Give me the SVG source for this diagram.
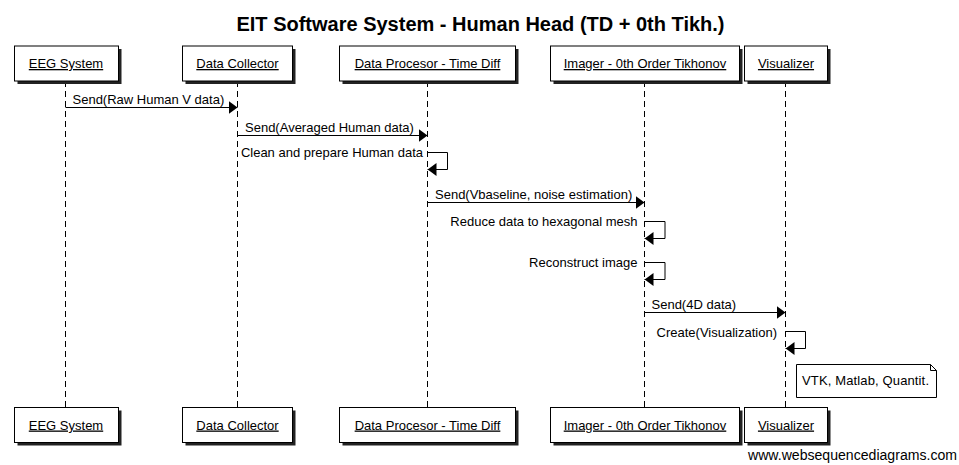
<svg xmlns="http://www.w3.org/2000/svg" width="959" height="465" viewBox="0 0 959 465">
<style>
text{font-family:"Liberation Sans",Arial,sans-serif;font-size:13px;fill:#000}
.title{font-size:20px;font-weight:bold}
.lbl{text-decoration:underline;text-anchor:middle}
.box{fill:#fff;stroke:#000;stroke-width:1}
.shadow{fill:#222}
.life{stroke:#000;stroke-width:1;stroke-dasharray:6,4;fill:none}
.msg{stroke:#000;stroke-width:1;fill:none;marker-end:url(#ah)}
.end{text-anchor:end}
.note{fill:#fff;stroke:#000;stroke-width:1}
.wm{font-size:14px;text-anchor:end}
</style>
<defs>
<marker id="ah" viewBox="0 0 9 13" refX="9" refY="6.5" markerWidth="9" markerHeight="13" markerUnits="userSpaceOnUse" orient="auto">
<path d="M0,0 L9,6.5 L0,13 z" fill="#000"/>
</marker>
</defs>
<rect width="959" height="465" fill="#fff"/>
<text class="title" x="480.5" y="31" text-anchor="middle">EIT Software System - Human Head (TD + 0th Tikh.)</text>

<g id="lifelines">
<line class="life" x1="65.5" y1="81" x2="65.5" y2="407"/>
<line class="life" x1="237.5" y1="81" x2="237.5" y2="407"/>
<line class="life" x1="427.5" y1="81" x2="427.5" y2="407"/>
<line class="life" x1="644.5" y1="81" x2="644.5" y2="407"/>
<line class="life" x1="785.5" y1="81" x2="785.5" y2="407"/>
</g>

<g id="eeg">
<rect class="shadow" x="17.5" y="49" width="104" height="35"/>
<rect class="box" x="14.5" y="46" width="104" height="35"/>
<text class="lbl" x="66" y="68">EEG System</text>
<rect class="shadow" x="17.5" y="410.5" width="104" height="35"/>
<rect class="box" x="14.5" y="407.5" width="104" height="35"/>
<text class="lbl" x="66" y="429.5">EEG System</text>
</g>
<g id="collector">
<rect class="shadow" x="185.5" y="49" width="110" height="35"/>
<rect class="box" x="182.5" y="46" width="110" height="35"/>
<text class="lbl" x="237.5" y="68">Data Collector</text>
<rect class="shadow" x="185.5" y="410.5" width="110" height="35"/>
<rect class="box" x="182.5" y="407.5" width="110" height="35"/>
<text class="lbl" x="237.5" y="429.5">Data Collector</text>
</g>
<g id="processor">
<rect class="shadow" x="342.5" y="49" width="176" height="35"/>
<rect class="box" x="339.5" y="46" width="176" height="35"/>
<text class="lbl" x="427.5" y="68">Data Procesor - Time Diff</text>
<rect class="shadow" x="342.5" y="410.5" width="176" height="35"/>
<rect class="box" x="339.5" y="407.5" width="176" height="35"/>
<text class="lbl" x="427.5" y="429.5">Data Procesor - Time Diff</text>
</g>
<g id="imager">
<rect class="shadow" x="553.5" y="49" width="189" height="35"/>
<rect class="box" x="550.5" y="46" width="189" height="35"/>
<text class="lbl" x="645" y="68">Imager - 0th Order Tikhonov</text>
<rect class="shadow" x="553.5" y="410.5" width="189" height="35"/>
<rect class="box" x="550.5" y="407.5" width="189" height="35"/>
<text class="lbl" x="645" y="429.5">Imager - 0th Order Tikhonov</text>
</g>
<g id="visualizer">
<rect class="shadow" x="747.5" y="49" width="83" height="35"/>
<rect class="box" x="744.5" y="46" width="83" height="35"/>
<text class="lbl" x="786" y="68">Visualizer</text>
<rect class="shadow" x="747.5" y="410.5" width="83" height="35"/>
<rect class="box" x="744.5" y="407.5" width="83" height="35"/>
<text class="lbl" x="786" y="429.5">Visualizer</text>
</g>

<g id="connectors">
<line class="msg" x1="65.5" y1="107.5" x2="237.5" y2="107.5"/>
<text x="72.5" y="103.5">Send(Raw Human V data)</text>
<line class="msg" x1="237.5" y1="135.5" x2="427.5" y2="135.5"/>
<text x="245" y="131.5">Send(Averaged Human data)</text>
<path class="msg" d="M427.5,152.5 H447.5 V169.5 H427.5"/>
<text class="end" x="423" y="157">Clean and prepare Human data</text>
<line class="msg" x1="427.5" y1="202.5" x2="644.5" y2="202.5"/>
<text x="435" y="198.5">Send(Vbaseline, noise estimation)</text>
<path class="msg" d="M644.5,221.5 H665 V238.5 H644.5"/>
<text class="end" x="637.5" y="226">Reduce data to hexagonal mesh</text>
<path class="msg" d="M644.5,262.5 H665 V279.5 H644.5"/>
<text class="end" x="637.5" y="267">Reconstruct image</text>
<line class="msg" x1="644.5" y1="312.5" x2="785.5" y2="312.5"/>
<text x="651.5" y="308.5">Send(4D data)</text>
<path class="msg" d="M785.5,331.5 H805.5 V348.5 H785.5"/>
<text class="end" x="777" y="336.5">Create(Visualization)</text>
</g>

<g id="note">
<path class="note" d="M796.5,364.5 H930.5 L936.5,370.5 V397.5 H796.5 Z"/>
<path d="M930.5,364.5 V370.5 H936.5" fill="none" stroke="#000" stroke-width="1"/>
<text x="802" y="385" textLength="127" lengthAdjust="spacing">VTK, Matlab, Quantit.</text>
</g>

<text class="wm" x="957" y="460" textLength="209" lengthAdjust="spacingAndGlyphs">www.websequencediagrams.com</text>
</svg>
